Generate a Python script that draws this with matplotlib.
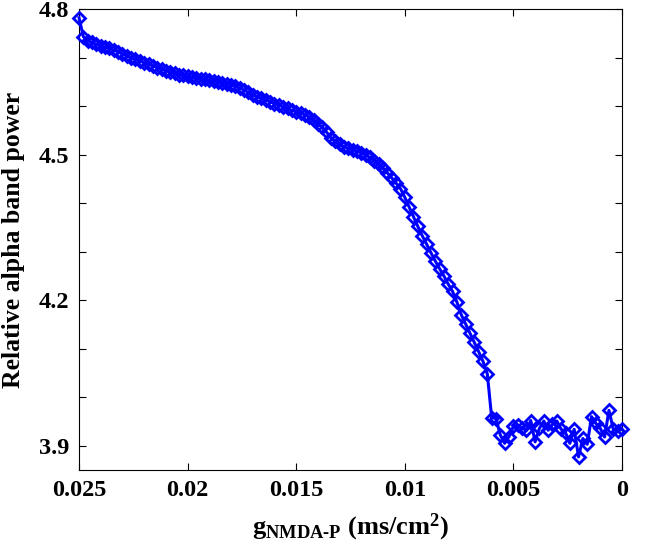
import numpy as np
import matplotlib
matplotlib.use("Agg")
import matplotlib.pyplot as plt

plt.rcParams['font.family'] = 'Liberation Serif'
plt.rcParams['font.weight'] = 'bold'
plt.rcParams['mathtext.fontset'] = 'custom'
plt.rcParams['mathtext.rm'] = 'Liberation Serif:bold'
plt.rcParams['mathtext.bf'] = 'Liberation Serif:bold'
plt.rcParams['mathtext.it'] = 'Liberation Serif:bold'

# g_NMDA-P swept from 0.025 down to 0 in steps of 0.0002
g_start = 0.025
g_step = 0.0002

# relative alpha band power, one value per step
alpha_power = [
    4.782, 4.743, 4.735, 4.731, 4.727, 4.724, 4.721, 4.719, 4.715, 4.712,
    4.707, 4.704, 4.699, 4.696, 4.693, 4.689, 4.686, 4.683, 4.679, 4.676,
    4.673, 4.670, 4.668, 4.665, 4.663, 4.661, 4.659, 4.658, 4.656, 4.655,
    4.653, 4.652, 4.650, 4.648, 4.646, 4.644, 4.641, 4.637, 4.633, 4.628,
    4.623, 4.619, 4.616, 4.612, 4.609, 4.605, 4.602, 4.598, 4.595, 4.591,
    4.588, 4.585, 4.582, 4.577, 4.571, 4.564, 4.556, 4.546, 4.535, 4.527,
    4.521, 4.516, 4.513, 4.510, 4.507, 4.504, 4.499, 4.494, 4.487, 4.480,
    4.472, 4.462, 4.452, 4.441, 4.430, 4.412, 4.392, 4.372, 4.352, 4.333,
    4.316, 4.298, 4.281, 4.265, 4.250, 4.233, 4.218, 4.196, 4.170, 4.151,
    4.132, 4.113, 4.094, 4.074, 4.048, 3.958, 3.956, 3.922, 3.905, 3.919,
    3.940, 3.942, 3.936, 3.932, 3.952, 3.908, 3.936, 3.951, 3.932, 3.944,
    3.951, 3.934, 3.927, 3.905, 3.934, 3.877, 3.915, 3.903, 3.960, 3.946,
    3.936, 3.918, 3.973, 3.934, 3.930, 3.934,
]
g_nmda = g_start - g_step * np.arange(len(alpha_power))

x_ticks = [0.025, 0.02, 0.015, 0.01, 0.005, 0]
x_ticklabels = ['0.025', '0.02', '0.015', '0.01', '0.005', '0']
y_ticks = [3.9, 4.0, 4.1, 4.2, 4.3, 4.4, 4.5, 4.6, 4.7, 4.8]
y_ticklabels = ['3.9', '', '', '4.2', '', '', '4.5', '', '', '4.8']

fig = plt.figure(figsize=(6.45, 5.48), dpi=100)
ax = fig.add_axes([0.1225, 0.1423, 0.8418, 0.8413])

ax.plot(g_nmda, alpha_power, color='#0000ff', lw=2.2, marker='D', ms=6.5,
        mfc='none', mec='#0000ff', mew=2.0, clip_on=False, zorder=3)

ax.set_xlim(0.025, 0)
ax.set_ylim(3.85, 4.8)
ax.set_xticks(x_ticks)
ax.set_xticklabels(x_ticklabels)
ax.set_yticks(y_ticks)
ax.set_yticklabels(y_ticklabels)
ax.tick_params(direction='in', top=True, right=True, length=5, width=0.8,
               labelsize=17.5, pad=7)
for lab in ax.get_xticklabels() + ax.get_yticklabels():
    lab.set_fontweight('bold')
for s in ax.spines.values():
    s.set_linewidth(0.8)

ax.set_xlabel(r'$\mathregular{g_{NMDA\text{-}P}}$ (ms/cm$^{\mathregular{2}}$)',
              fontsize=19, fontweight='bold', labelpad=8)
ax.set_ylabel('Relative alpha band power', fontsize=18.5, fontweight='bold',
              labelpad=10)

plt.savefig('out.png', dpi=100)
